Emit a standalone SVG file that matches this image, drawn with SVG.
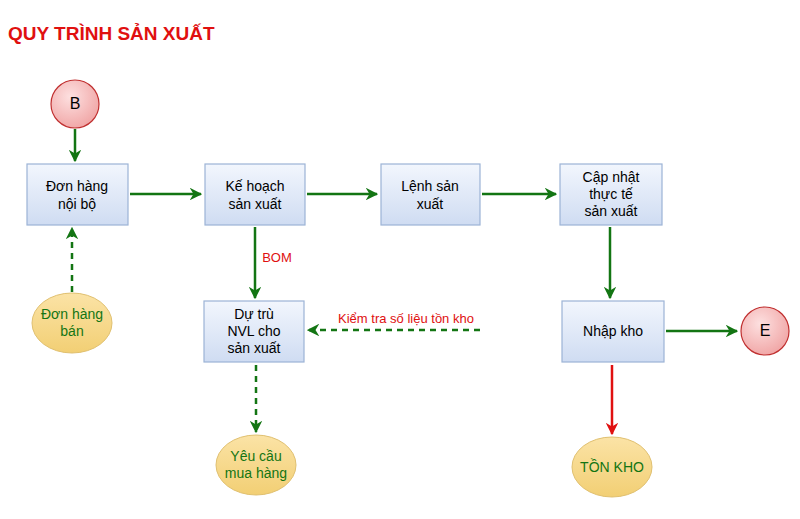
<svg xmlns="http://www.w3.org/2000/svg" width="800" height="519" viewBox="0 0 800 519">
<style>
text{font-family:"Liberation Sans",Arial,sans-serif;font-size:14px;text-anchor:middle;fill:#000}
.box{fill:url(#bg);stroke:#9cb3d6;stroke-width:1.2}
.ell{fill:url(#yg);stroke:#e0c070;stroke-width:1}
.cir{fill:url(#rg);stroke:#c03030;stroke-width:1.2}
.g{stroke:#137513;stroke-width:2.5;fill:none}
.d{stroke-dasharray:6,5}
.r{stroke:#e01010;stroke-width:2.5;fill:none}
.gt{fill:#137513}
</style>
<defs>
<linearGradient id="bg" x1="0" y1="0" x2="0" y2="1"><stop offset="0" stop-color="#f2f6fd"/><stop offset="1" stop-color="#cfdcf2"/></linearGradient>
<linearGradient id="yg" x1="0" y1="0" x2="0" y2="1"><stop offset="0" stop-color="#fbe3a6"/><stop offset="1" stop-color="#f2cf74"/></linearGradient>
<radialGradient id="rg" cx="0.4" cy="0.35" r="0.7"><stop offset="0" stop-color="#fde0e0"/><stop offset="1" stop-color="#f0a4a4"/></radialGradient>
<marker id="ag" viewBox="0 0 10 10" refX="9" refY="5" markerWidth="5" markerHeight="5" orient="auto"><path d="M0,0L10,5L0,10L3,5z" fill="#137513"/></marker>
<marker id="ar" viewBox="0 0 10 10" refX="9" refY="5" markerWidth="5" markerHeight="5" orient="auto"><path d="M0,0L10,5L0,10L3,5z" fill="#e01010"/></marker>
</defs>
<text x="8" y="40" style="font-size:19px;font-weight:bold;fill:#e01010;text-anchor:start">QUY TRÌNH SẢN XUẤT</text>
<g id="connectors">
<line class="g" x1="75" y1="129" x2="75" y2="161" marker-end="url(#ag)"/>
<line class="g" x1="130" y1="194" x2="201" y2="194" marker-end="url(#ag)"/>
<line class="g" x1="307" y1="194" x2="377" y2="194" marker-end="url(#ag)"/>
<line class="g" x1="482" y1="194" x2="556" y2="194" marker-end="url(#ag)"/>
<line class="g d" x1="72" y1="292" x2="72" y2="228" marker-end="url(#ag)"/>
<line class="g" x1="255" y1="227" x2="255" y2="298" marker-end="url(#ag)"/>
<text x="277" y="262" style="font-size:13px;fill:#e01010">BOM</text>
<line class="g d" x1="480" y1="330" x2="308" y2="330" marker-end="url(#ag)"/>
<text x="406" y="323" style="font-size:13px;fill:#e01010">Kiểm tra số liệu tồn kho</text>
<line class="g d" x1="256" y1="365" x2="256" y2="432" marker-end="url(#ag)"/>
<line class="g" x1="610" y1="227" x2="610" y2="298" marker-end="url(#ag)"/>
<line class="g" x1="666" y1="331" x2="737" y2="331" marker-end="url(#ag)"/>
<line class="r" x1="612" y1="365" x2="612" y2="434" marker-end="url(#ar)"/>
</g>
<g id="B"><circle class="cir" cx="75" cy="104" r="24"/><text x="75" y="109" style="font-size:16px">B</text></g>
<g id="don-hang-noi-bo"><rect class="box" x="27" y="164" width="101" height="61"/><text x="77" y="191">Đơn hàng</text><text x="77" y="209">nội bộ</text></g>
<g id="ke-hoach"><rect class="box" x="205" y="164" width="100" height="61"/><text x="255" y="191">Kế hoạch</text><text x="255" y="209">sản xuất</text></g>
<g id="lenh"><rect class="box" x="381" y="164" width="99" height="61"/><text x="430" y="191">Lệnh sản</text><text x="430" y="209">xuất</text></g>
<g id="cap-nhat"><rect class="box" x="560" y="164" width="102" height="61"/><text x="611" y="182">Cập nhật</text><text x="611" y="199">thực tế</text><text x="611" y="216">sản xuất</text></g>
<g id="du-tru"><rect class="box" x="204" y="301" width="100" height="61"/><text x="254" y="319">Dự trù</text><text x="254" y="336">NVL cho</text><text x="254" y="353">sản xuất</text></g>
<g id="nhap-kho"><rect class="box" x="562" y="301" width="102" height="61"/><text x="613" y="336">Nhập kho</text></g>
<g id="E"><circle class="cir" cx="765" cy="331" r="24"/><text x="765" y="336" style="font-size:16px">E</text></g>
<g id="don-hang-ban"><ellipse class="ell" cx="72" cy="323" rx="40" ry="30"/><text x="72" y="319" class="gt">Đơn hàng</text><text x="72" y="336" class="gt">bán</text></g>
<g id="yeu-cau"><ellipse class="ell" cx="256" cy="465" rx="40" ry="30"/><text x="256" y="461" class="gt">Yêu cầu</text><text x="256" y="478" class="gt">mua hàng</text></g>
<g id="ton-kho"><ellipse class="ell" cx="612" cy="467" rx="40" ry="30"/><text x="612" y="472" class="gt">TỒN KHO</text></g>
</svg>
